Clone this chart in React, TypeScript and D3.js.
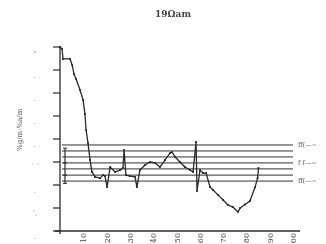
import React from 'react';
import * as d3 from 'd3';

// curve (x in label units, y in tick units)
const lineX = [0, 0.9, 1.3, 4.3, 5.2, 6.0, 6.9, 8.6, 9.9, 10.7, 11.2, 12.0, 12.9, 13.7, 15.0, 17.2, 18.5, 19.3, 20.2, 21.5, 23.6, 25.8, 27.0, 27.5, 28.3, 30.0, 32.2, 33.0, 34.3, 36.5, 38.6, 40.8, 42.9, 45.1, 47.2, 48.1, 49.4, 51.5, 53.6, 55.8, 57.1, 58.4, 58.8, 60.1, 61.4, 62.7, 64.4, 65.7, 67.8, 70.0, 72.1, 74.2, 76.4, 77.3, 79.4, 81.5, 83.7, 84.8, 85.2];
const lineY = [8.0, 7.91, 7.48, 7.48, 7.22, 6.83, 6.61, 6.13, 5.70, 5.09, 4.39, 3.83, 3.09, 2.57, 2.35, 2.30, 2.43, 2.39, 1.91, 2.78, 2.57, 2.65, 2.74, 3.52, 2.43, 2.39, 2.35, 1.91, 2.65, 2.87, 3.00, 2.96, 2.78, 3.09, 3.39, 3.43, 3.22, 3.00, 2.78, 2.65, 2.57, 3.87, 1.74, 2.65, 2.52, 2.52, 1.91, 1.78, 1.57, 1.35, 1.13, 1.04, 0.83, 1.00, 1.15, 1.30, 1.90, 2.30, 2.74];

const refLevels = [3.74, 3.48, 3.22, 2.96, 2.70, 2.43, 2.17];
const refLabels = ['ff(\u2014~', 'f \u017f\u2014~', 'ff(\u2014~'];
const refLabelLevels = [3.74, 2.96, 2.17];

const xTicks = [10, 20, 30, 40, 50, 60, 70, 80, 90, 100];
const xTickLabels = ['10', '20', '30', '40', '50', '60', '70', '80', '90', '00'];
const yTicks = [0, 1, 2, 3, 4, 5, 6, 7, 8];
const yTickLabels = ['\u02ce', '\u2018\u02ce', '\u02ce', '\u00b4 \u00b4', '\u02ce', '\u02ce', '\u02ce', '\u02ce', '-'];

const title = '19\u03a9am';
const yTitle = '%g/m-%a/m';

export default function App() {
  const width = 326, height = 244;
  const x = d3.scaleLinear().domain([0, 100]).range([60, 293]);
  const y = d3.scaleLinear().domain([0, 8]).range([231, 47]);

  const pts: [number, number][] = lineX.map((v, i) => [v, lineY[i]]);
  const line = d3.line<[number, number]>().x(d => x(d[0])).y(d => y(d[1]));

  const ink = '#2a2a2a';

  return (
    <svg width={width} height={height} style={{position: 'absolute', left: 0, top: 0, background: '#fff'}}
         fontFamily="'DejaVu Serif', serif">
      <defs>
        <filter id="scan">
          <feGaussianBlur stdDeviation="0.35"/>
        </filter>
      </defs>
      <g filter="url(#scan)">
        <text x={173} y={17} textAnchor="middle" fontSize={9} fontWeight="bold" fill="#444">{title}</text>

        {/* y axis */}
        <line x1={x(0)} x2={x(0)} y1={y(8) - 1} y2={y(0) + 3} stroke={ink} strokeWidth={1.3}/>
        {yTicks.map(t => (
          <line key={'yt' + t} x1={x(0) - 7} x2={x(0)} y1={y(t)} y2={y(t)} stroke={ink} strokeWidth={1.2}/>
        ))}
        {yTicks.map((t, i) => (
          <text key={'yl' + t} x={35} y={y(t) + 7} textAnchor="middle" fontSize={7} fill="#777">{yTickLabels[i]}</text>
        ))}
        <text transform={`translate(22,${y(4.4)}) rotate(-90)`} textAnchor="middle" fontSize={7} fill="#555">{yTitle}</text>

        {/* x axis */}
        <line x1={55} x2={300} y1={y(0)} y2={y(0)} stroke={ink} strokeWidth={1.3}/>
        {xTicks.map((t, i) => (
          <text key={'xl' + t} transform={`translate(${x(t) + 3},${y(0) + 2}) rotate(-90)`} textAnchor="end"
                fontSize={8} fill="#444">{xTickLabels[i]}</text>
        ))}

        {/* reference lines */}
        {refLevels.map((l, i) => (
          <line key={'r' + i} x1={62} x2={293} y1={y(l)} y2={y(l)} stroke="#333" strokeWidth={1}/>
        ))}
        {refLabels.map((s, i) => (
          <text key={'rl' + i} x={298} y={y(refLabelLevels[i]) + 2} fontSize={6.5} fill="#555">{s}</text>
        ))}
        <line x1={65} x2={65} y1={y(3.6)} y2={y(2.07)} stroke={ink} strokeWidth={1.2}/>
        {[3.6, 2.96, 2.43, 2.07].map((l, i) => (
          <line key={'b' + i} x1={63} x2={67} y1={y(l)} y2={y(l)} stroke={ink} strokeWidth={1}/>
        ))}

        {/* curve */}
        <path d={line(pts) ?? ''} fill="none" stroke={ink} strokeWidth={1.3} strokeLinejoin="round"/>
        {pts.map((p, i) => (
          <rect key={'m' + i} x={x(p[0]) - 0.9} y={y(p[1]) - 0.9} width={1.8} height={1.8} fill={ink}/>
        ))}
      </g>
    </svg>
  );
}
